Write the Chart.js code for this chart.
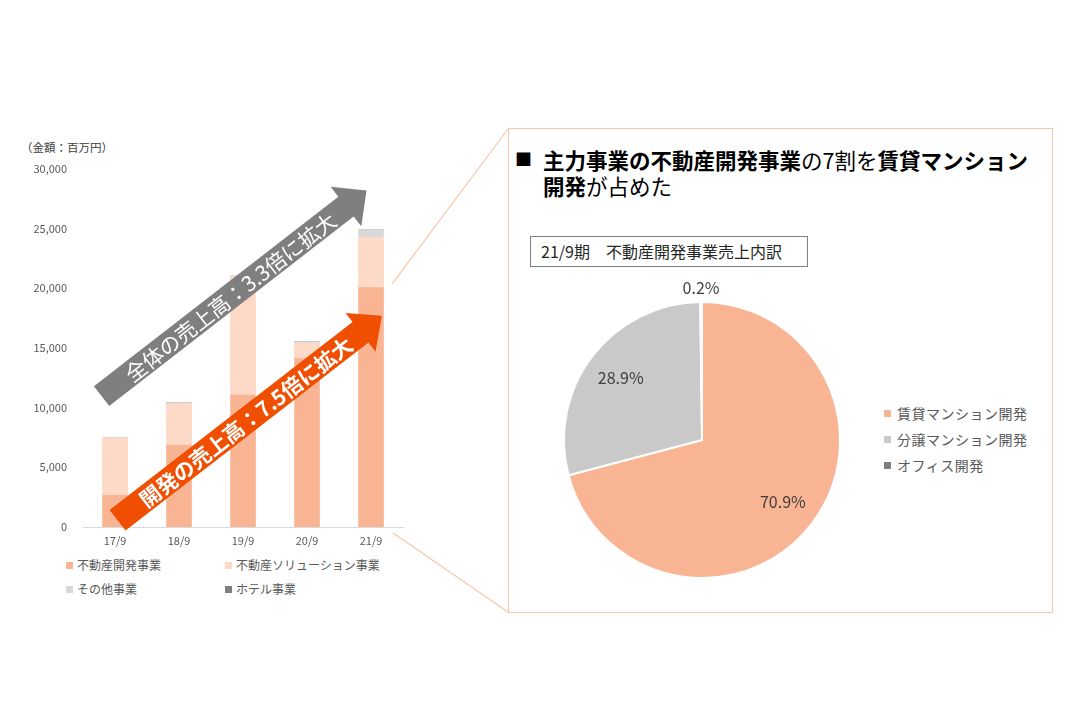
<!DOCTYPE html>
<html>
<head>
<meta charset="utf-8">
<script src="https://cdn.jsdelivr.net/npm/chart.js@4.4.1/dist/chart.umd.min.js"></script>
<style>
    body {
        margin: 0;
        width: 1080px;
        height: 720px;
        background: #fff;
        position: relative;
        overflow: hidden;
        font-family: 'Noto Sans CJK JP', sans-serif;
    }
    .abs { position: absolute; white-space: nowrap; }
    #barWrap { left: 0; top: 146px; width: 410px; height: 405px; }
    #pieWrap { left: 532px; top: 270px; width: 340px; height: 340px; }
    #unit { left: 21px; top: 139px; font-size: 11.5px; color: #404040; }
    .legItem { position: absolute; font-size: 12px; color: #595959; line-height: 14px; }
    .legItem i { display: inline-block; width: 7px; height: 7px; margin-right: 4px; vertical-align: 1px; }
    #panel { left: 508px; top: 128px; width: 543px; height: 483px; border: 1.5px solid #f8c6a6; }
    #mark { left: 515px; top: 146px; font-size: 17px; line-height: 26px; color: #000; }
    #title { left: 543px; top: 147px; font-size: 21.5px; line-height: 26px; color: #000; }
    #title b { font-weight: 700; }
    #subBox { left: 530px; top: 236px; width: 266px; height: 29px; border: 1px solid #7f7f7f;
        font-size: 16px; line-height: 29px; color: #262626; padding-left: 10px; box-sizing: content-box; }
    .pieLeg { position: absolute; font-size: 14px; color: #595959; line-height: 16px; letter-spacing: 0.5px; }
    .pieLeg i { display: inline-block; width: 7px; height: 7px; margin-right: 6px; vertical-align: 2px; }
</style>
</head>
<body>

<svg class="abs" style="left:0;top:0" width="1080" height="720">
    <line x1="392" y1="284" x2="508" y2="129" stroke="#f8c6a6" stroke-width="1.2"/>
    <line x1="393" y1="533" x2="508" y2="612" stroke="#f8c6a6" stroke-width="1.2"/>
</svg>

<div id="unit" class="abs">（金額：百万円）</div>
<div id="barWrap" class="abs"><canvas id="barChart"></canvas></div>
<div id="barLegend"></div>

<div id="panel" class="abs"></div>
<div id="mark" class="abs">■</div>
<div id="title" class="abs"><b>主力事業の不動産開発事業</b>の7割を<b>賃貸マンション</b><br><b>開発</b>が占めた</div>
<div id="subBox" class="abs">21/9期　不動産開発事業売上内訳</div>
<div id="pieWrap" class="abs"><canvas id="pieChart"></canvas></div>
<div id="pieLegend"></div>

<script>
// --- 売上高推移 (百万円) ---
const years = ["17/9", "18/9", "19/9", "20/9", "21/9"];
const devSales = [2650, 6850, 11050, 14100, 20050];
const solutionSales = [4800, 3500, 9900, 1300, 4200];
const otherSales = [60, 60, 60, 100, 650];
const hotelSales = [0, 0, 0, 0, 0];
const barSeriesNames = ["不動産開発事業", "不動産ソリューション事業", "その他事業", "ホテル事業"];

// --- 21/9期 不動産開発事業売上内訳 (%) ---
const pieLabels = ["賃貸マンション開発", "分譲マンション開発", "オフィス開発"];
const pieShares = [70.9, 28.9, 0.2];

const barColors = ["#f9b593", "#fdd9c8", "#d9d9d9", "#7f7f7f"];
const pieColors = ["#f9b593", "#c9c9c9", "#7f7f7f"];

Chart.defaults.font.family = "'Noto Sans CJK JP', sans-serif";

// arrows anchored to the bar chart's own scales (category index, value)
const arrowPlugin = {
    id: "growthArrows",
    afterDatasetsDraw(chart, args, opts) {
        const { ctx, scales: { x, y } } = chart;
        opts.arrows.forEach(a => {
            const x0 = x.getPixelForValue(a.from[0]), y0 = y.getPixelForValue(a.from[1]);
            const x1 = x.getPixelForValue(a.to[0]), y1 = y.getPixelForValue(a.to[1]);
            const ang = Math.atan2(y1 - y0, x1 - x0);
            const len = Math.hypot(x1 - x0, y1 - y0);
            ctx.save();
            ctx.translate(x0, y0);
            ctx.rotate(ang);
            ctx.beginPath();
            ctx.moveTo(0, -a.shaft / 2);
            ctx.lineTo(len - a.headL, -a.shaft / 2);
            ctx.lineTo(len - a.headL, -a.headW / 2);
            ctx.lineTo(len, 0);
            ctx.lineTo(len - a.headL, a.headW / 2);
            ctx.lineTo(len - a.headL, a.shaft / 2);
            ctx.lineTo(0, a.shaft / 2);
            ctx.closePath();
            ctx.fillStyle = a.color;
            ctx.fill();
            ctx.fillStyle = "#fff";
            ctx.font = a.font;
            ctx.textAlign = "center";
            ctx.textBaseline = "middle";
            ctx.fillText(a.text, (len - a.headL) / 2 + 8, 1);
            ctx.restore();
        });
    }
};

new Chart(document.getElementById("barChart"), {
    type: "bar",
    data: {
        labels: years,
        datasets: [
            { label: barSeriesNames[0], data: devSales, backgroundColor: barColors[0] },
            { label: barSeriesNames[1], data: solutionSales, backgroundColor: barColors[1] },
            { label: barSeriesNames[2], data: otherSales, backgroundColor: barColors[2] },
            { label: barSeriesNames[3], data: hotelSales, backgroundColor: barColors[3] }
        ]
    },
    options: {
        responsive: true,
        maintainAspectRatio: false,
        animation: false,
        datasets: { bar: { barThickness: 25 } },
        layout: { padding: { top: 9, right: 7, left: 0, bottom: 0 } },
        plugins: {
            legend: { display: false },
            tooltip: { enabled: false },
            growthArrows: {
                arrows: [
                    { from: [-0.21, 10960], to: [3.93, 28160], shaft: 25, headW: 50, headL: 26,
                      color: "#7f7f7f", text: "全体の売上高：3.3倍に拡大",
                      font: "400 21px 'Noto Sans CJK JP'" },
                    { from: [0.04, 560], to: [4.17, 17680], shaft: 26, headW: 49, headL: 27,
                      color: "#f04e00", text: "開発の売上高：7.5倍に拡大",
                      font: "700 21px 'Noto Sans CJK JP'" }
                ]
            }
        },
        scales: {
            x: {
                stacked: true,
                grid: { display: false, drawTicks: false },
                border: { display: true, color: "#d9d9d9", width: 1 },
                ticks: { color: "#595959", font: { size: 11 }, padding: 7 },
                afterFit(scale) { scale.height = 24; }
            },
            y: {
                stacked: true,
                min: 0,
                max: 30000,
                grid: { display: false, drawTicks: false },
                border: { display: false },
                ticks: {
                    stepSize: 5000,
                    color: "#595959",
                    font: { size: 11 },
                    padding: 16,
                    callback: v => v.toLocaleString("en-US")
                },
                afterFit(scale) { scale.width = 83; }
            }
        }
    },
    plugins: [arrowPlugin]
});

// bar legend, two columns
const barLeg = document.getElementById("barLegend");
barSeriesNames.forEach((name, i) => {
    const d = document.createElement("div");
    d.className = "legItem";
    d.style.left = (i % 2 === 0 ? 66 : 225) + "px";
    d.style.top = (i < 2 ? 558 : 582) + "px";
    d.innerHTML = `<i style="background:${barColors[i]}"></i>${name}`;
    barLeg.appendChild(d);
});

const pieLabelPlugin = {
    id: "pieLabels",
    afterDatasetsDraw(chart) {
        const { ctx } = chart;
        const meta = chart.getDatasetMeta(0);
        ctx.save();
        ctx.font = "16px 'Noto Sans CJK JP'";
        ctx.fillStyle = "#404040";
        ctx.textAlign = "center";
        ctx.textBaseline = "middle";
        meta.data.forEach((arc, i) => {
            const mid = (arc.startAngle + arc.endAngle) / 2;
            const r = pieShares[i] < 1 ? arc.outerRadius + 14 : arc.outerRadius * 0.74;
            ctx.fillText(pieShares[i].toFixed(1) + "%", arc.x + Math.cos(mid) * r, arc.y + Math.sin(mid) * r);
        });
        ctx.restore();
    }
};

new Chart(document.getElementById("pieChart"), {
    type: "pie",
    data: {
        labels: pieLabels,
        datasets: [{
            data: pieShares,
            backgroundColor: pieColors,
            borderColor: "#ffffff",
            borderWidth: 2
        }]
    },
    options: {
        responsive: true,
        maintainAspectRatio: false,
        animation: false,
        layout: { padding: 31 },
        plugins: { legend: { display: false }, tooltip: { enabled: false } }
    },
    plugins: [pieLabelPlugin]
});

const pieLeg = document.getElementById("pieLegend");
pieLabels.forEach((name, i) => {
    const d = document.createElement("div");
    d.className = "pieLeg";
    d.style.left = "884px";
    d.style.top = (405 + i * 26) + "px";
    d.innerHTML = `<i style="background:${pieColors[i]}"></i>${name}`;
    pieLeg.appendChild(d);
});
</script>
</body>
</html>
